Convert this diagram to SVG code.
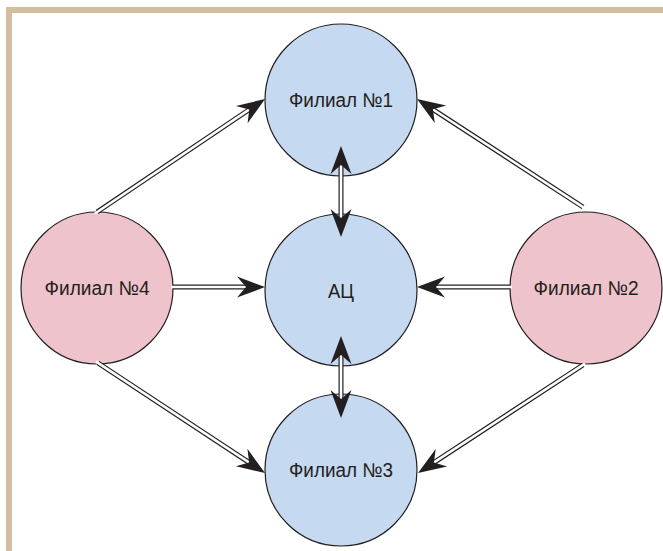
<svg xmlns="http://www.w3.org/2000/svg" xmlns:xlink="http://www.w3.org/1999/xlink" width="663" height="551" viewBox="0 0 663 551">
<style>
.bg{fill:#ffffff}
.frame{fill:#d4bd9e}
.blue{fill:#c5d9f1;stroke:#231f20;stroke-width:1.2}
.pink{fill:#efc3cb;stroke:#231f20;stroke-width:1.2}
.lbl{font-family:"Liberation Sans",Arial,sans-serif;font-size:20px;fill:#231f20;text-anchor:middle}
.outer{stroke:#231f20;stroke-width:5;fill:none}
.inner{stroke:#ffffff;stroke-width:2.6;fill:none}
.ah{fill:#231f20}
</style>
<defs>
<path id="ah" d="M0,0 L-28,-10.5 L-19,0 L-28,10.5 Z"/>
</defs>
<rect class="bg" x="0" y="0" width="663" height="551"/>
<rect class="frame" x="6" y="7" width="657" height="6"/>
<rect class="frame" x="6" y="7" width="6" height="544"/>
<g id="node-f1"><circle class="blue" cx="341" cy="100" r="76"/><text class="lbl" x="341" y="107" textLength="104" lengthAdjust="spacingAndGlyphs">Филиал №1</text></g>
<g id="node-ac"><circle class="blue" cx="341" cy="290" r="76"/><text class="lbl" x="341" y="297.5" textLength="26" lengthAdjust="spacingAndGlyphs" style="font-size:21px">АЦ</text></g>
<g id="node-f3"><circle class="blue" cx="341" cy="470" r="76"/><text class="lbl" x="341" y="477" textLength="104" lengthAdjust="spacingAndGlyphs">Филиал №3</text></g>
<g id="node-f4"><circle class="pink" cx="97" cy="288" r="76"/><text class="lbl" x="97" y="295" textLength="105" lengthAdjust="spacingAndGlyphs">Филиал №4</text></g>
<g id="node-f2"><circle class="pink" cx="586" cy="288" r="76"/><text class="lbl" x="586" y="295" textLength="105" lengthAdjust="spacingAndGlyphs">Филиал №2</text></g>
<g id="connectors">
<g class="outer">
<line x1="97" y1="212" x2="250.1" y2="109"/>
<line x1="583" y1="207" x2="432.1" y2="108.8"/>
<line x1="98" y1="363" x2="250" y2="463.1"/>
<line x1="583" y1="365" x2="433.1" y2="463.1"/>
<line x1="173" y1="287" x2="249" y2="287"/>
<line x1="510" y1="287" x2="433" y2="287"/>
<line x1="341" y1="162" x2="341" y2="221"/>
<line x1="341" y1="352" x2="341" y2="402"/>
</g>
<g class="inner">
<line x1="95" y1="213.5" x2="252" y2="107.7"/>
<line x1="585" y1="208.3" x2="430" y2="107.5"/>
<line x1="96" y1="361.7" x2="252" y2="464.4"/>
<line x1="585" y1="363.7" x2="431" y2="464.4"/>
<line x1="171" y1="287" x2="251" y2="287"/>
<line x1="512" y1="287" x2="431" y2="287"/>
<line x1="341" y1="160" x2="341" y2="223"/>
<line x1="341" y1="350" x2="341" y2="404"/>
</g>
<g class="ah">
<use xlink:href="#ah" transform="translate(265,99) rotate(-33.9)"/>
<use xlink:href="#ah" transform="translate(417,99) rotate(-147)"/>
<use xlink:href="#ah" transform="translate(265,473) rotate(33.4)"/>
<use xlink:href="#ah" transform="translate(418,473) rotate(146.8)"/>
<use xlink:href="#ah" transform="translate(265,287)"/>
<use xlink:href="#ah" transform="translate(417,287) rotate(180)"/>
<use xlink:href="#ah" transform="translate(341,146) rotate(-90)"/>
<use xlink:href="#ah" transform="translate(341,237) rotate(90)"/>
<use xlink:href="#ah" transform="translate(341,336) rotate(-90)"/>
<use xlink:href="#ah" transform="translate(341,418) rotate(90)"/>
</g>
</g>
</svg>
